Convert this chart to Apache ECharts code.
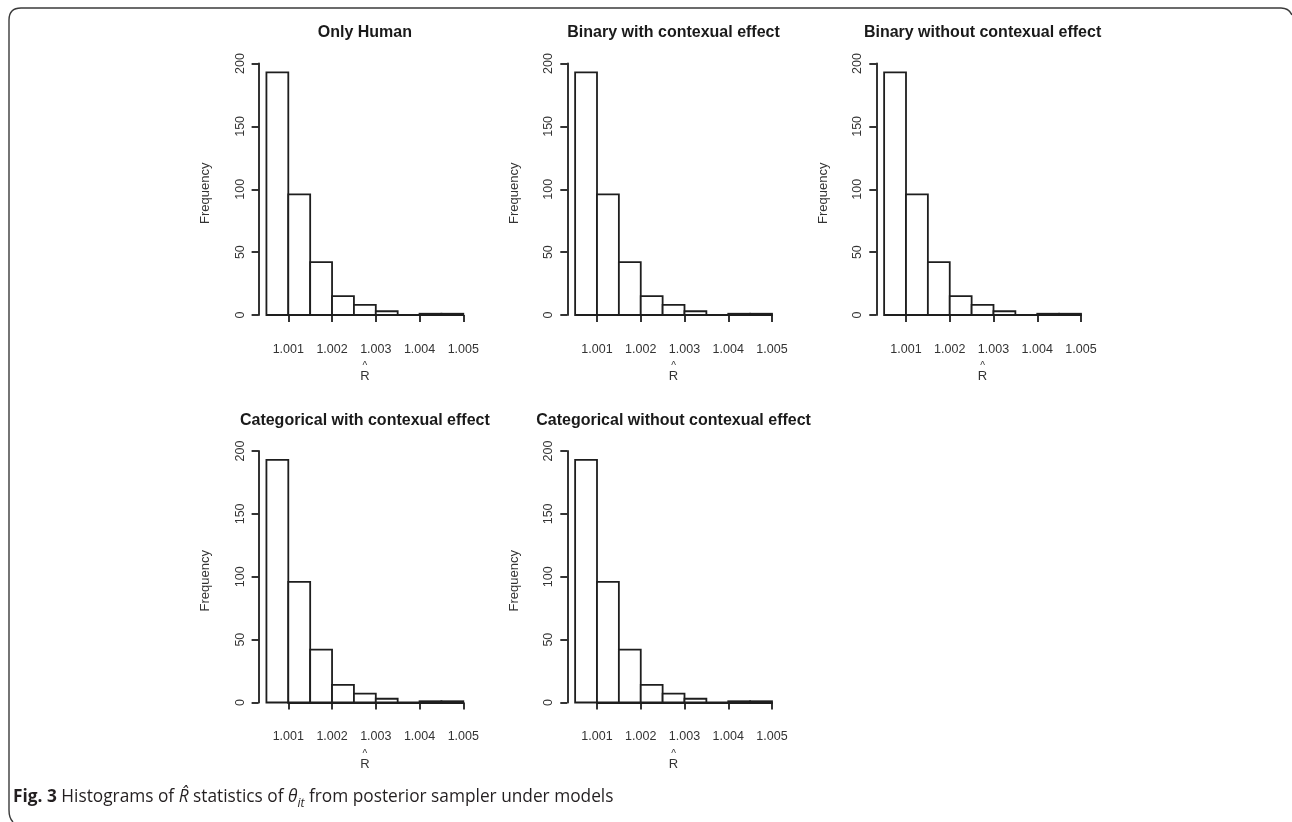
<!DOCTYPE html>
<html>
<head>
<meta charset="utf-8">
<script src="https://cdn.jsdelivr.net/npm/echarts@6/dist/echarts.min.js"></script>
<style>
html,body{margin:0;padding:0;background:#ffffff;}
#chart{width:1292px;height:822px;}
</style>
</head>
<body>
<div id="chart"></div>
<script>
// ---------------- data ----------------
const panelTitles = [
  'Only Human',
  'Binary with contexual effect',
  'Binary without contexual effect',
  'Categorical with contexual effect',
  'Categorical without contexual effect'
];
const binStart = [1.0005, 1.0010, 1.0015, 1.0020, 1.0025, 1.0030, 1.0035, 1.0040, 1.0045];
const binEnd   = [1.0010, 1.0015, 1.0020, 1.0025, 1.0030, 1.0035, 1.0040, 1.0045, 1.0050];
const countsOnlyHuman          = [193, 96, 42, 15, 8, 3, 0, 1, 1];
const countsBinaryWith         = [193, 96, 42, 15, 8, 3, 0, 1, 1];
const countsBinaryWithout      = [193, 96, 42, 15, 8, 3, 0, 1, 1];
const countsCategoricalWith    = [193, 96, 42, 14, 7, 3, 0, 1, 1];
const countsCategoricalWithout = [193, 96, 42, 14, 7, 3, 0, 1, 1];
const xTickLabels = [1.001, 1.002, 1.003, 1.004, 1.005];
const yTickLabels = [0, 50, 100, 150, 200];
const xAxisTitle = 'R';
const yAxisTitle = 'Frequency';
const captionBold = 'Fig. 3';
const captionText = ' Histograms of {i|R\u0302} statistics of {i|\u03b8}{sub|it} from posterior sampler under models';

const allCounts = [countsOnlyHuman, countsBinaryWith, countsBinaryWithout, countsCategoricalWith, countsCategoricalWithout];

// ---------------- layout ----------------
const layout = [
  {left: 288.3, top: 63.5},
  {left: 597.0, top: 63.5},
  {left: 906.0, top: 63.5},
  {left: 288.3, top: 451.0},
  {left: 597.0, top: 451.0}
];
const gw = 175, gh = 251.5;
const yOff = 29.7, xOff = 9.7;
const lineCol = '#1e1e1e';
const txtCol = '#333';
const lw = 1.8;
const fam = '"Liberation Sans", Arial, sans-serif';
const capFam = '"Open Sans", "Noto Sans", sans-serif';

const grids = [], xAxes = [], yAxes = [], series = [], graphics = [];
const yInterval = yTickLabels[1] - yTickLabels[0];

layout.forEach((L, i) => {
  grids.push({left: L.left, top: L.top, width: gw, height: gh, containLabel: false});
  xAxes.push({
    gridIndex: i, type: 'value',
    min: xTickLabels[0], max: xTickLabels[xTickLabels.length - 1], interval: 0.001,
    offset: xOff,
    axisLine: {show: true, lineStyle: {color: lineCol, width: lw}},
    axisTick: {show: true, length: 7, lineStyle: {color: lineCol, width: lw}},
    axisLabel: {margin: 18, fontSize: 12.5, color: txtCol, fontFamily: fam,
      showMinLabel: true, showMaxLabel: true,
      formatter: v => v.toFixed(3)},
    splitLine: {show: false}
  });
  yAxes.push({
    gridIndex: i, type: 'value',
    min: yTickLabels[0], max: yTickLabels[yTickLabels.length - 1], interval: yInterval,
    offset: yOff,
    axisLine: {show: true, lineStyle: {color: lineCol, width: lw}},
    axisTick: {show: true, length: 7, lineStyle: {color: lineCol, width: lw}},
    axisLabel: {rotate: 90, margin: 12, fontSize: 12.5, color: txtCol, fontFamily: fam},
    splitLine: {show: false}
  });
  const counts = allCounts[i];
  series.push({
    type: 'custom', xAxisIndex: i, yAxisIndex: i, clip: false,
    data: binStart.map((s, k) => [s, binEnd[k], counts[k]]),
    encode: {x: [0, 1], y: 2},
    renderItem: (params, api) => {
      const p0 = api.coord([api.value(0), api.value(2)]);
      const p1 = api.coord([api.value(1), 0]);
      return {
        type: 'rect',
        shape: {x: p0[0], y: p0[1], width: p1[0] - p0[0], height: p1[1] - p0[1]},
        style: {fill: '#ffffff', stroke: lineCol, lineWidth: lw}
      };
    }
  });
  const unit = gw / 4;
  const cx = L.left + 1.75 * unit;
  const axisX = L.left - yOff;
  const bottom = L.top + gh;
  graphics.push({type: 'text', x: cx, y: L.top - 30.5,
    style: {text: panelTitles[i], fontSize: 16, fontWeight: 'bold', fontFamily: fam, fill: '#1a1a1a',
      textAlign: 'center', textVerticalAlign: 'middle'}});
  graphics.push({type: 'text', x: axisX - 53, y: L.top + gh / 2 + 4, rotation: Math.PI / 2,
    style: {text: yAxisTitle, fontSize: 13, fontFamily: fam, fill: txtCol,
      textAlign: 'center', textVerticalAlign: 'middle'}});
  graphics.push({type: 'text', x: cx, y: bottom + xOff + 52,
    style: {text: xAxisTitle, fontSize: 13, fontFamily: fam, fill: txtCol,
      textAlign: 'center', textVerticalAlign: 'middle'}});
  graphics.push({type: 'text', x: cx, y: bottom + xOff + 42,
    style: {text: '^', fontSize: 10, fontFamily: fam, fill: txtCol,
      textAlign: 'center', textVerticalAlign: 'middle'}});
});

// frame
const frameStyle = {fill: null, stroke: '#3a3a3a', lineWidth: 1.4};
graphics.push({type: 'polyline', shape: {points: [[9, 810], [9, 20]]}, style: frameStyle});
graphics.push({type: 'polyline', shape: {points: [[21, 8], [1281, 8]]}, style: frameStyle});
graphics.push({type: 'bezierCurve', shape: {x1: 9, y1: 20, x2: 21, y2: 8, cpx1: 9, cpy1: 8}, style: frameStyle});
graphics.push({type: 'bezierCurve', shape: {x1: 1281, y1: 8, x2: 1292, y2: 15, cpx1: 1289, cpy1: 8}, style: frameStyle});
graphics.push({type: 'bezierCurve', shape: {x1: 9, y1: 810, x2: 13, y2: 822, cpx1: 9, cpy1: 818}, style: frameStyle});

// caption
const capSize = 17.3;
graphics.push({type: 'text', x: 13, y: 797,
  style: {
    text: '{b|' + captionBold + '}' + captionText,
    fontSize: capSize, fontFamily: capFam, fill: '#231f20',
    textAlign: 'left', textVerticalAlign: 'middle',
    rich: {
      b: {fontSize: capSize, fontWeight: 'bold', fontFamily: capFam, fill: '#231f20'},
      i: {fontSize: capSize, fontStyle: 'italic', fontFamily: capFam, fill: '#231f20'},
      sub: {fontSize: 12, fontStyle: 'italic', fontFamily: capFam, fill: '#231f20', verticalAlign: 'bottom', lineHeight: 26}
    }
  }});

const chart = echarts.init(document.getElementById('chart'), null, {renderer: 'canvas'});
chart.setOption({
  animation: false,
  backgroundColor: '#ffffff',
  grid: grids,
  xAxis: xAxes,
  yAxis: yAxes,
  series: series,
  graphic: graphics
});
</script>
</body>
</html>
